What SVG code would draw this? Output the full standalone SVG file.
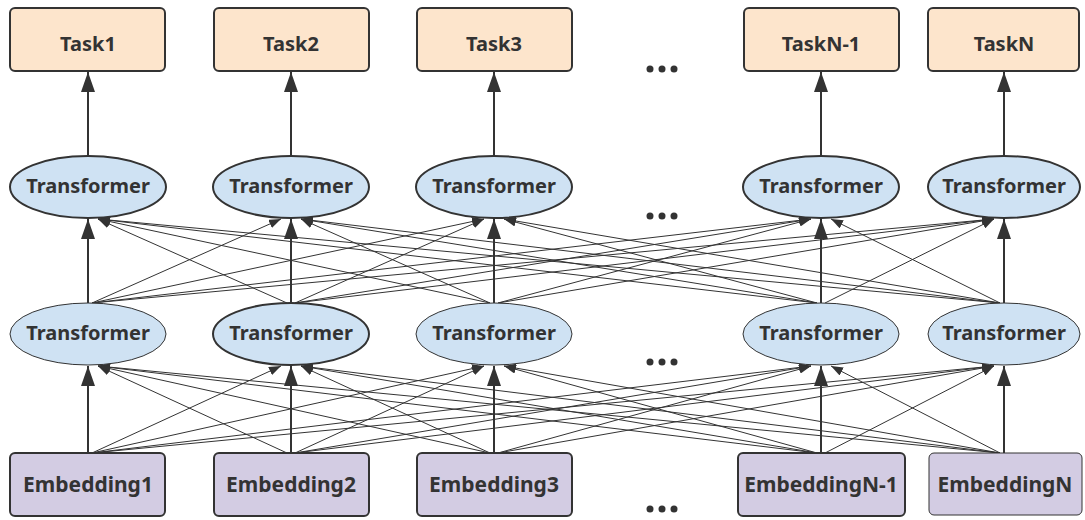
<svg xmlns="http://www.w3.org/2000/svg" width="1085" height="520" viewBox="0 0 1085 520">
<style>
.task{fill:#fde5cc;stroke:#333;stroke-width:2}
.tf{fill:#cfe2f3;stroke:#333;stroke-width:2}
.tf1{fill:#cfe2f3;stroke:#333;stroke-width:1}
.emb{fill:#d3cce3;stroke:#333;stroke-width:2}
.emb1{fill:#d3cce3;stroke:#333;stroke-width:1}
text{font-family:"Noto Sans","Open Sans","Liberation Sans",sans-serif;font-weight:bold;font-size:20px;fill:#333;text-anchor:middle}
.et{font-size:21px}
.v{stroke:#333;stroke-width:2;fill:none;marker-end:url(#big)}
.d{stroke:#333;stroke-width:1;fill:none;marker-end:url(#small)}
.dot{fill:#333}
</style>
<defs>
<marker id="big" markerUnits="userSpaceOnUse" markerWidth="20" markerHeight="14" refX="20" refY="7" viewBox="0 0 20 14" orient="auto">
<path d="M0,0 L20,7 L0,14 Z" fill="#333"/>
</marker>
<marker id="small" markerUnits="userSpaceOnUse" markerWidth="12" markerHeight="9" refX="12" refY="4.5" viewBox="0 0 12 9" orient="auto">
<path d="M0,0 L12,4.5 L0,9 Z" fill="#333"/>
</marker>
</defs>

<g id="connectors">
<line class="v" x1="88" y1="155" x2="88" y2="72"/>
<line class="v" x1="291" y1="155" x2="291" y2="72"/>
<line class="v" x1="494" y1="155" x2="494" y2="72"/>
<line class="v" x1="821" y1="155" x2="821" y2="72"/>
<line class="v" x1="1004" y1="155" x2="1004" y2="72"/>
<line class="v" x1="88" y1="303" x2="88" y2="219"/>
<line class="v" x1="291" y1="303" x2="291" y2="219"/>
<line class="v" x1="494" y1="303" x2="494" y2="219"/>
<line class="v" x1="821" y1="303" x2="821" y2="219"/>
<line class="v" x1="1004" y1="303" x2="1004" y2="219"/>
<line class="d" x1="92" y1="303" x2="281" y2="219"/>
<line class="d" x1="92" y1="303" x2="484" y2="219"/>
<line class="d" x1="92" y1="303" x2="811" y2="219"/>
<line class="d" x1="92" y1="303" x2="994" y2="219"/>
<line class="d" x1="287" y1="303" x2="98" y2="219"/>
<line class="d" x1="295" y1="303" x2="484" y2="219"/>
<line class="d" x1="295" y1="303" x2="811" y2="219"/>
<line class="d" x1="295" y1="303" x2="994" y2="219"/>
<line class="d" x1="490" y1="303" x2="98" y2="219"/>
<line class="d" x1="490" y1="303" x2="301" y2="219"/>
<line class="d" x1="498" y1="303" x2="811" y2="219"/>
<line class="d" x1="498" y1="303" x2="994" y2="219"/>
<line class="d" x1="817" y1="303" x2="98" y2="219"/>
<line class="d" x1="817" y1="303" x2="301" y2="219"/>
<line class="d" x1="817" y1="303" x2="504" y2="219"/>
<line class="d" x1="825" y1="303" x2="994" y2="219"/>
<line class="d" x1="1000" y1="303" x2="98" y2="219"/>
<line class="d" x1="1000" y1="303" x2="301" y2="219"/>
<line class="d" x1="1000" y1="303" x2="504" y2="219"/>
<line class="d" x1="1000" y1="303" x2="831" y2="219"/>
<line class="v" x1="88" y1="453" x2="88" y2="366"/>
<line class="v" x1="291" y1="453" x2="291" y2="366"/>
<line class="v" x1="494" y1="453" x2="494" y2="366"/>
<line class="v" x1="821" y1="453" x2="821" y2="366"/>
<line class="v" x1="1004" y1="453" x2="1004" y2="366"/>
<line class="d" x1="92" y1="453" x2="281" y2="366"/>
<line class="d" x1="92" y1="453" x2="484" y2="366"/>
<line class="d" x1="92" y1="453" x2="811" y2="366"/>
<line class="d" x1="92" y1="453" x2="994" y2="366"/>
<line class="d" x1="287" y1="453" x2="98" y2="366"/>
<line class="d" x1="295" y1="453" x2="484" y2="366"/>
<line class="d" x1="295" y1="453" x2="811" y2="366"/>
<line class="d" x1="295" y1="453" x2="994" y2="366"/>
<line class="d" x1="490" y1="453" x2="98" y2="366"/>
<line class="d" x1="490" y1="453" x2="301" y2="366"/>
<line class="d" x1="498" y1="453" x2="811" y2="366"/>
<line class="d" x1="498" y1="453" x2="994" y2="366"/>
<line class="d" x1="817" y1="453" x2="98" y2="366"/>
<line class="d" x1="817" y1="453" x2="301" y2="366"/>
<line class="d" x1="817" y1="453" x2="504" y2="366"/>
<line class="d" x1="825" y1="453" x2="994" y2="366"/>
<line class="d" x1="1000" y1="453" x2="98" y2="366"/>
<line class="d" x1="1000" y1="453" x2="301" y2="366"/>
<line class="d" x1="1000" y1="453" x2="504" y2="366"/>
<line class="d" x1="1000" y1="453" x2="831" y2="366"/>
</g>

<g id="task1"><rect class="task" x="10" y="8" width="155" height="63" rx="5"/><text x="88" y="51">Task1</text></g>
<g id="task2"><rect class="task" x="214" y="8" width="155" height="63" rx="5"/><text x="291" y="51">Task2</text></g>
<g id="task3"><rect class="task" x="417" y="8" width="155" height="63" rx="5"/><text x="494" y="51">Task3</text></g>
<g id="taskN-1"><rect class="task" x="744" y="8" width="155" height="63" rx="5"/><text x="821" y="51">TaskN-1</text></g>
<g id="taskN"><rect class="task" x="928" y="8" width="151" height="63" rx="5"/><text x="1004" y="51">TaskN</text></g>

<g id="tf-top-1"><ellipse class="tf" cx="88" cy="187" rx="78" ry="31"/><text x="88" y="193">Transformer</text></g>
<g id="tf-top-2"><ellipse class="tf" cx="291" cy="187" rx="78" ry="31"/><text x="291" y="193">Transformer</text></g>
<g id="tf-top-3"><ellipse class="tf" cx="494" cy="187" rx="78" ry="31"/><text x="494" y="193">Transformer</text></g>
<g id="tf-top-N-1"><ellipse class="tf" cx="821" cy="187" rx="78" ry="31"/><text x="821" y="193">Transformer</text></g>
<g id="tf-top-N"><ellipse class="tf" cx="1004" cy="187" rx="76" ry="31"/><text x="1004" y="193">Transformer</text></g>

<g id="tf-mid-1"><ellipse class="tf1" cx="88" cy="334" rx="78" ry="31"/><text x="88" y="340">Transformer</text></g>
<g id="tf-mid-2"><ellipse class="tf" cx="291" cy="334" rx="78" ry="31"/><text x="291" y="340">Transformer</text></g>
<g id="tf-mid-3"><ellipse class="tf1" cx="494" cy="334" rx="78" ry="31"/><text x="494" y="340">Transformer</text></g>
<g id="tf-mid-N-1"><ellipse class="tf1" cx="821" cy="334" rx="78" ry="31"/><text x="821" y="340">Transformer</text></g>
<g id="tf-mid-N"><ellipse class="tf1" cx="1004" cy="334" rx="76" ry="31"/><text x="1004" y="340">Transformer</text></g>

<g id="emb1"><rect class="emb" x="10" y="453" width="155" height="63" rx="5"/><text class="et" x="88" y="492">Embedding1</text></g>
<g id="emb2"><rect class="emb" x="214" y="453" width="155" height="63" rx="5"/><text class="et" x="291" y="492">Embedding2</text></g>
<g id="emb3"><rect class="emb" x="417" y="453" width="155" height="63" rx="5"/><text class="et" x="494" y="492">Embedding3</text></g>
<g id="embN-1"><rect class="emb" x="738" y="453" width="167" height="63" rx="5"/><text class="et" x="821" y="492">EmbeddingN-1</text></g>
<g id="embN"><rect class="emb1" x="929" y="453" width="153" height="62" rx="5"/><text class="et" x="1005" y="492">EmbeddingN</text></g>

<g id="dots">
<circle class="dot" cx="650" cy="69" r="3.5"/><circle class="dot" cx="662" cy="69" r="3.5"/><circle class="dot" cx="674" cy="69" r="3.5"/>
<circle class="dot" cx="650" cy="216" r="3.5"/><circle class="dot" cx="662" cy="216" r="3.5"/><circle class="dot" cx="674" cy="216" r="3.5"/>
<circle class="dot" cx="650" cy="362" r="3.5"/><circle class="dot" cx="662" cy="362" r="3.5"/><circle class="dot" cx="674" cy="362" r="3.5"/>
<circle class="dot" cx="650" cy="509" r="3.5"/><circle class="dot" cx="662" cy="509" r="3.5"/><circle class="dot" cx="674" cy="509" r="3.5"/>
</g>
</svg>
